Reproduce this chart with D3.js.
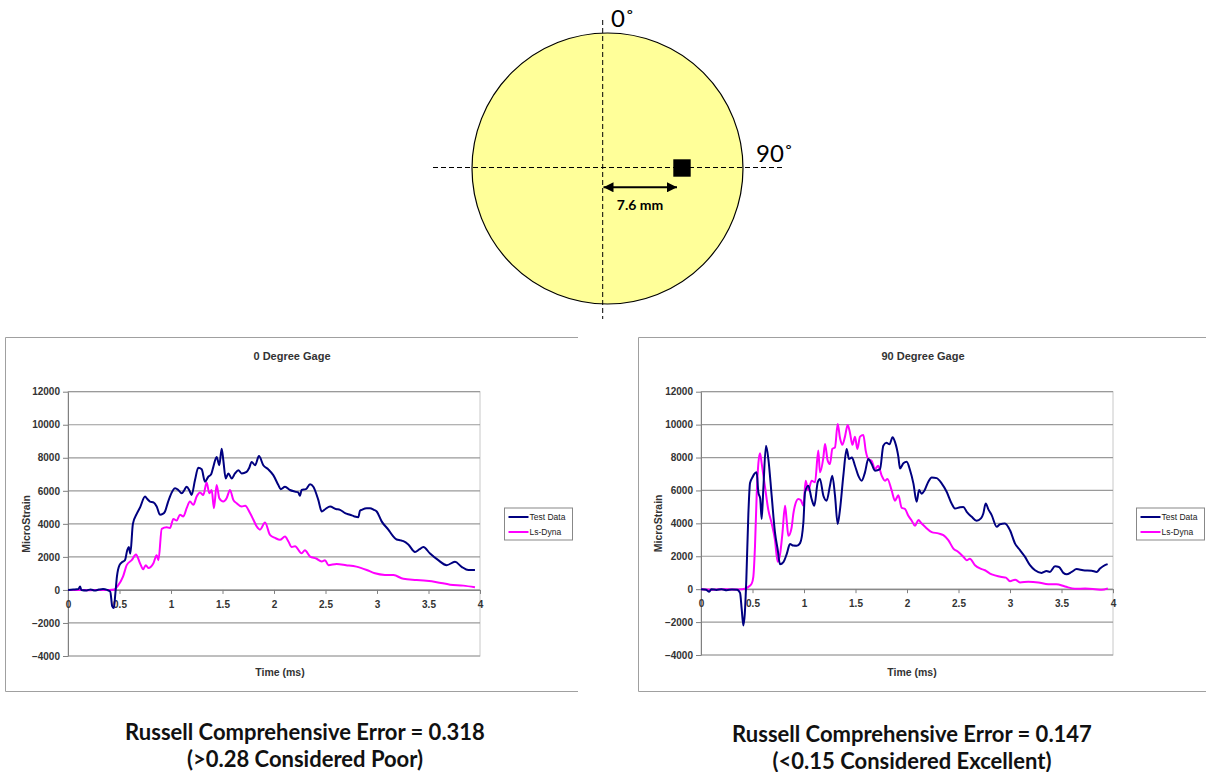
<!DOCTYPE html>
<html>
<head>
<meta charset="utf-8">
<script src="https://cdn.jsdelivr.net/npm/d3@7"></script>
<style>
	body { margin: 0; background: #fff; }
	svg { display: block; }
	.tick text { font-family: "Liberation Sans", Arial, sans-serif; font-size: 10px; font-weight: bold; fill: #333; }
	.axis path, .axis line { stroke: #808080; }
</style>
</head>
<body>
<svg id="fig" width="1206" height="772"></svg>
<script>

// ticks shared by both gage charts
var yTicks = [-4000, -2000, 0, 2000, 4000, 6000, 8000, 10000, 12000]
var xTicks = [0, 0.5, 1, 1.5, 2, 2.5, 3, 3.5, 4]
var seriesNames = ["Test Data", "Ls-Dyna"]
var seriesColors = ["#000080", "#ff00ff"]

// 0 degree gage, [time ms, microstrain]
var gage0Test = [[0,0],[0.05,20],[0.1,50],[0.117,200],[0.13,0],[0.18,-30],[0.22,30],[0.26,-40],[0.3,20],[0.34,60],[0.38,0],[0.41,-100],[0.43,-1000],[0.445,-1100],[0.46,-200],[0.475,800],[0.5,1500],[0.53,1700],[0.553,1800],[0.575,2400],[0.59,2600],[0.605,2200],[0.63,4000],[0.667,4600],[0.7,5000],[0.748,5650],[0.77,5500],[0.796,5350],[0.83,5300],[0.861,5050],[0.893,4550],[0.92,4600],[0.942,4750],[0.97,5300],[0.99,5650],[1.039,6150],[1.071,6050],[1.104,5850],[1.13,6050],[1.152,6250],[1.18,6000],[1.2,5750],[1.233,6650],[1.265,7400],[1.298,7300],[1.33,6550],[1.362,6850],[1.39,7000],[1.411,7450],[1.443,8050],[1.469,7550],[1.492,8550],[1.508,7850],[1.531,6750],[1.557,7050],[1.589,6750],[1.621,7050],[1.654,7250],[1.686,7050],[1.734,7150],[1.76,7400],[1.783,7750],[1.816,7550],[1.854,8100],[1.896,7550],[1.945,7300],[1.993,6950],[2.042,6350],[2.065,6100],[2.107,6250],[2.155,6050],[2.204,5950],[2.235,5900],[2.252,5700],[2.268,6050],[2.31,6100],[2.35,6400],[2.382,6250],[2.43,5450],[2.463,4750],[2.5,4900],[2.544,5050],[2.6,4900],[2.641,4850],[2.69,4650],[2.738,4550],[2.78,4450],[2.819,4400],[2.835,4800],[2.851,4850],[2.9,4950],[2.932,4950],[2.97,4850],[2.997,4750],[3.045,4150],[3.11,3650],[3.15,3300],[3.191,3050],[3.23,3000],[3.256,2950],[3.304,2750],[3.369,2300],[3.41,2450],[3.45,2600],[3.515,2200],[3.595,1800],[3.676,1500],[3.757,1700],[3.822,1400],[3.887,1200],[3.951,1200]]

var gage0Dyna = [[0,0],[0.1,0],[0.2,-20],[0.3,0],[0.4,0],[0.45,30],[0.485,260],[0.534,800],[0.57,1500],[0.618,1800],[0.66,2150],[0.7,1600],[0.73,1250],[0.755,1500],[0.78,1330],[0.828,1600],[0.861,2100],[0.878,1800],[0.91,3700],[0.958,3800],[0.99,3750],[1.023,4300],[1.055,4200],[1.087,4550],[1.12,4450],[1.152,4950],[1.184,5350],[1.217,5150],[1.249,5650],[1.281,5900],[1.314,5750],[1.346,6500],[1.372,5850],[1.395,6050],[1.417,4950],[1.443,6350],[1.469,5550],[1.508,5350],[1.54,5550],[1.573,6050],[1.605,5450],[1.637,5250],[1.686,5050],[1.72,5100],[1.767,4650],[1.8,4250],[1.831,3850],[1.864,3650],[1.913,4080],[1.961,3330],[2.01,3150],[2.058,3030],[2.107,3230],[2.14,2930],[2.172,2600],[2.204,2650],[2.268,2220],[2.3,2400],[2.35,2020],[2.41,1900],[2.463,1720],[2.495,1800],[2.528,1500],[2.608,1570],[2.7,1500],[2.8,1410],[2.9,1210],[2.98,1010],[3.077,910],[3.16,900],[3.256,670],[3.385,600],[3.48,550],[3.58,470],[3.71,320],[3.838,260],[3.951,160]]

// 90 degree gage
var gage90Test = [[0,0],[0.05,-30],[0.08,-150],[0.1,0],[0.15,-50],[0.2,0],[0.25,-60],[0.3,-20],[0.35,-30],[0.379,-230],[0.395,-1200],[0.411,-2200],[0.425,-1500],[0.44,570],[0.46,4600],[0.476,6450],[0.5,6800],[0.518,7000],[0.54,7100],[0.557,5880],[0.575,5500],[0.589,4260],[0.605,6080],[0.631,8720],[0.654,7910],[0.686,5680],[0.718,3450],[0.744,2430],[0.767,1520],[0.8,1650],[0.832,2130],[0.864,2740],[0.897,2650],[0.929,2640],[0.962,2800],[0.994,4050],[1.01,5880],[1.042,6290],[1.074,5480],[1.1,5070],[1.133,6490],[1.155,6700],[1.188,5680],[1.22,5380],[1.252,6290],[1.275,6900],[1.301,5680],[1.327,3960],[1.35,4870],[1.382,6900],[1.414,8520],[1.437,7910],[1.465,8000],[1.495,7500],[1.527,6900],[1.56,6590],[1.592,7100],[1.624,7910],[1.657,7600],[1.689,7200],[1.738,7300],[1.77,8720],[1.8,8900],[1.83,8800],[1.86,9230],[1.883,8950],[1.916,8050],[1.932,7340],[1.965,7650],[1.997,7740],[2.029,7240],[2.062,6430],[2.094,5310],[2.117,6020],[2.142,5800],[2.17,6000],[2.207,6530],[2.24,6790],[2.288,6750],[2.336,6430],[2.385,5920],[2.433,5210],[2.466,4900],[2.515,4980],[2.547,5000],[2.58,4700],[2.628,4400],[2.676,4160],[2.718,4300],[2.741,4600],[2.764,5210],[2.79,4850],[2.822,4500],[2.871,3790],[2.903,3950],[2.951,3990],[3.0,3580],[3.049,2770],[3.097,2370],[3.146,1960],[3.194,1460],[3.243,1150],[3.307,990],[3.355,1100],[3.388,1050],[3.437,1390],[3.475,1350],[3.518,990],[3.55,900],[3.599,1050],[3.647,1220],[3.71,1150],[3.793,1120],[3.841,1050],[3.874,1250],[3.922,1460],[3.948,1520]]

var gage90Dyna = [[0,0],[0.1,-30],[0.2,0],[0.3,-20],[0.4,0],[0.427,30],[0.46,140],[0.492,340],[0.508,750],[0.524,2580],[0.54,5620],[0.557,7650],[0.573,8260],[0.589,7650],[0.621,6230],[0.654,4800],[0.686,4000],[0.718,2990],[0.744,1670],[0.767,2100],[0.79,3360],[0.816,5070],[0.832,4160],[0.848,3240],[0.88,3750],[0.896,4560],[0.913,5100],[0.945,5480],[0.97,5400],[0.994,5070],[1.016,6590],[1.042,6000],[1.074,6590],[1.107,6500],[1.139,8420],[1.155,7100],[1.188,8010],[1.204,8820],[1.23,7810],[1.252,7600],[1.275,8520],[1.301,8620],[1.327,10030],[1.35,9170],[1.372,8770],[1.398,9270],[1.424,9980],[1.447,9480],[1.47,8770],[1.495,9270],[1.518,8520],[1.544,9270],[1.576,9370],[1.599,8420],[1.624,7910],[1.657,7800],[1.689,7300],[1.72,7500],[1.754,6900],[1.786,6590],[1.81,6700],[1.851,6000],[1.883,5380],[1.916,5700],[1.948,4950],[1.981,4870],[2.013,4460],[2.046,4160],[2.078,3850],[2.11,4200],[2.142,3990],[2.175,3790],[2.24,3470],[2.304,3390],[2.353,3280],[2.401,2980],[2.45,2470],[2.498,2260],[2.547,1970],[2.58,1760],[2.61,1850],[2.66,1460],[2.709,1260],[2.757,1150],[2.806,950],[2.854,840],[2.919,740],[2.96,700],[3.0,480],[3.05,580],[3.097,410],[3.178,450],[3.275,410],[3.372,300],[3.45,300],[3.534,160],[3.631,20],[3.73,40],[3.825,0],[3.89,-40],[3.95,50]]

var errorLines0 = ["Russell Comprehensive Error = 0.318", "(>0.28 Considered Poor)"]
var errorLines90 = ["Russell Comprehensive Error = 0.147", "(<0.15 Considered Excellent)"]

var svg = d3.select("#fig")
var chartFont = '"Liberation Sans", Arial, sans-serif'

// Gage location sketch

var diagram = svg.append("g")

diagram.append("defs").append("marker")
	.attr("id", "arrowhead")
	.attr("viewBox", "0 0 10 10")
	.attr("refX", 10)
	.attr("refY", 5)
	.attr("markerUnits", "userSpaceOnUse")
	.attr("markerWidth", 11)
	.attr("markerHeight", 10)
	.attr("orient", "auto-start-reverse")
	.append("path")
	.attr("d", "M0,0L10,5L0,10Z")
	.attr("fill", "#000")

diagram.append("circle")
	.attr("cx", 607.5)
	.attr("cy", 168.5)
	.attr("r", 135.5)
	.attr("fill", "#ffff99")
	.attr("stroke", "#000")
	.attr("stroke-width", 1.2)

diagram.append("line")
	.attr("x1", 602.7).attr("x2", 602.7)
	.attr("y1", 20).attr("y2", 319)
	.attr("stroke", "#000")
	.attr("stroke-dasharray", "5,3")

diagram.append("line")
	.attr("x1", 433).attr("x2", 783)
	.attr("y1", 167.5).attr("y2", 167.5)
	.attr("stroke", "#000")
	.attr("stroke-dasharray", "5,3")

diagram.append("rect")
	.attr("x", 673.3).attr("y", 159.3)
	.attr("width", 17.4).attr("height", 17.4)
	.attr("fill", "#000")

diagram.append("line")
	.attr("x1", 603.5).attr("x2", 677)
	.attr("y1", 187.3).attr("y2", 187.3)
	.attr("stroke", "#000")
	.attr("stroke-width", 2)
	.attr("marker-start", "url(#arrowhead)")
	.attr("marker-end", "url(#arrowhead)")

diagram.append("text")
	.attr("x", 640).attr("y", 209.5)
	.attr("text-anchor", "middle")
	.style("font-family", "Lato, sans-serif")
	.style("font-weight", "bold")
	.style("font-size", "14px")
	.text("7.6 mm")

diagram.append("text")
	.attr("x", 611).attr("y", 27)
	.style("font-family", "Lato, sans-serif")
	.style("font-size", "24px")
	.text("0˚")

diagram.append("text")
	.attr("x", 756).attr("y", 162)
	.style("font-family", "Lato, sans-serif")
	.style("font-size", "24px")
	.text("90˚")

// Gage charts

function drawGage(cfg) {

	var g = svg.append("g")

	// chart area border (right side is cut off in the source)
	g.append("path")
		.attr("d", "M" + cfg.frame.x1 + "," + cfg.frame.y0 + "H" + cfg.frame.x0 + "V" + cfg.frame.y1 + "H" + cfg.frame.x1)
		.attr("fill", "none")
		.attr("stroke", "#a0a0a0")

	var x = d3.scaleLinear()
		.domain([0, 4])
		.range([cfg.left, cfg.right])

	var y = d3.scaleLinear()
		.domain([-4000, 12000])
		.range([cfg.bottom, cfg.top])

	g.append("rect")
		.attr("x", cfg.left)
		.attr("y", cfg.top)
		.attr("width", cfg.right - cfg.left)
		.attr("height", cfg.bottom - cfg.top)
		.attr("fill", "#fff")
		.attr("stroke", "#c8c8c8")

	for (var i = 0; i < yTicks.length; i++) {

		g.append("line")
			.attr("x1", cfg.left)
			.attr("x2", cfg.right)
			.attr("y1", y(yTicks[i]))
			.attr("y2", y(yTicks[i]))
			.attr("stroke", "#9a9a9a")
			.attr("stroke-width", 1.2)

	}

	g.append("g")
		.attr("class", "axis")
		.attr("transform", "translate(" + cfg.left + ",0)")
		.call(d3.axisLeft(y).tickValues(yTicks).tickSizeInner(5).tickSizeOuter(0).tickPadding(3).tickFormat(d3.format("d")))

	g.append("g")
		.attr("class", "axis")
		.attr("transform", "translate(0," + y(0) + ")")
		.call(d3.axisBottom(x).tickValues(xTicks).tickSizeInner(4).tickSizeOuter(0).tickPadding(7).tickFormat(function(d) { return d; }))

	var line = d3.line()
		.x(function(d) { return x(d[0]); })
		.y(function(d) { return y(d[1]); })
		.curve(d3.curveMonotoneX)

	var series = [cfg.dyna, cfg.test]
	var colors = [seriesColors[1], seriesColors[0]]

	for (var s = 0; s < series.length; s++) {

		g.append("path")
			.datum(series[s])
			.attr("d", line)
			.attr("fill", "none")
			.attr("stroke", colors[s])
			.attr("stroke-width", 2)
			.attr("stroke-linejoin", "round")

	}

	g.append("text")
		.attr("x", cfg.titleX)
		.attr("y", 360)
		.attr("text-anchor", "middle")
		.style("font-family", chartFont)
		.style("font-weight", "bold")
		.style("font-size", "11px")
		.style("fill", "#333")
		.text(cfg.title)

	g.append("text")
		.attr("x", cfg.xLabelX)
		.attr("y", 676)
		.attr("text-anchor", "middle")
		.style("font-family", chartFont)
		.style("font-weight", "bold")
		.style("font-size", "10.5px")
		.style("fill", "#333")
		.text("Time (ms)")

	g.append("text")
		.attr("transform", "translate(" + cfg.yLabelX + "," + ((cfg.top + cfg.bottom) / 2) + ") rotate(-90)")
		.attr("text-anchor", "middle")
		.style("font-family", chartFont)
		.style("font-weight", "bold")
		.style("font-size", "10.5px")
		.style("fill", "#333")
		.text("MicroStrain")

	// legend
	var legend = g.append("g")
		.attr("transform", "translate(" + cfg.legendX + ",508)")

	legend.append("rect")
		.attr("width", 68)
		.attr("height", 32)
		.attr("fill", "#fff")
		.attr("stroke", "#888")

	seriesNames.forEach(function(name, k) {

		legend.append("line")
			.attr("x1", 4).attr("x2", 24)
			.attr("y1", 9 + k * 15).attr("y2", 9 + k * 15)
			.attr("stroke", seriesColors[k])
			.attr("stroke-width", 2)

		legend.append("text")
			.attr("x", 25)
			.attr("y", 12 + k * 15)
			.style("font-family", chartFont)
			.style("font-size", "8.5px")
			.style("fill", "#222")
			.text(name)

	})

	cfg.notes.forEach(function(txt, k) {

		svg.append("text")
			.attr("x", cfg.noteX)
			.attr("y", cfg.noteY + k * 26.5)
			.attr("text-anchor", "middle")
			.style("font-family", "Lato, sans-serif")
			.style("font-weight", "bold")
			.style("font-size", "22px")
			.style("fill", "#111")
			.text(txt)

	})

}

drawGage({
	title: "0 Degree Gage",
	test: gage0Test,
	dyna: gage0Dyna,
	frame: { x0: 5.5, x1: 578, y0: 337.5, y1: 691.5 },
	left: 68, right: 480, top: 391.7, bottom: 656,
	titleX: 292, xLabelX: 280, yLabelX: 30,
	legendX: 504.5,
	notes: errorLines0, noteX: 305, noteY: 740
})

drawGage({
	title: "90 Degree Gage",
	test: gage90Test,
	dyna: gage90Dyna,
	frame: { x0: 638.5, x1: 1206, y0: 337.5, y1: 691.5 },
	left: 701, right: 1113, top: 391.7, bottom: 655,
	titleX: 923, xLabelX: 912, yLabelX: 662,
	legendX: 1136.5,
	notes: errorLines90, noteX: 912, noteY: 742
})

</script>
</body>
</html>
